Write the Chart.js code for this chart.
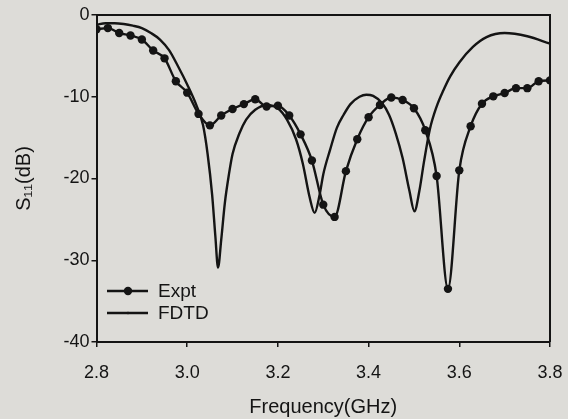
<!DOCTYPE html>
<html>
<head>
<meta charset="utf-8">
<script src="https://cdn.jsdelivr.net/npm/chart.js@4/dist/chart.umd.min.js"></script>
<style>
  html, body { margin: 0; padding: 0; background: #dddcd8; }
  #wrap { width: 568px; height: 419px; position: relative; }
</style>
</head>
<body>
<div id="wrap"><canvas id="c" width="568" height="419"></canvas></div>
<script>
// ---- data ----
const exptFreq = [2.800, 2.825, 2.850, 2.875, 2.900, 2.925, 2.950, 2.975, 3.000, 3.025,
                  3.050, 3.075, 3.100, 3.125, 3.150, 3.175, 3.200, 3.225, 3.250, 3.275,
                  3.300, 3.325, 3.350, 3.375, 3.400, 3.425, 3.450, 3.475, 3.500, 3.525,
                  3.550, 3.575, 3.600, 3.625, 3.650, 3.675, 3.700, 3.725, 3.750, 3.775, 3.800];
const exptS11  = [-1.75, -1.6, -2.2, -2.5, -3.0, -4.35, -5.3, -8.1, -9.5, -12.1,
                  -13.5, -12.3, -11.5, -10.9, -10.3, -11.2, -11.1, -12.3, -14.6, -17.8,
                  -23.2, -24.7, -19.1, -15.2, -12.5, -11.0, -10.1, -10.4, -11.4, -14.1,
                  -19.7, -33.5, -19.0, -13.6, -10.85, -9.95, -9.55, -8.95, -8.95, -8.1, -8.0];

const fdtdFreq = [2.80, 2.82, 2.84, 2.86, 2.88, 2.90, 2.92, 2.94, 2.96, 2.98,
                  3.00, 3.02, 3.035, 3.045, 3.055, 3.062, 3.068, 3.075, 3.083, 3.092,
                  3.10, 3.115, 3.13, 3.15, 3.175, 3.20, 3.22, 3.24, 3.255, 3.27,
                  3.281, 3.292, 3.30, 3.315, 3.33, 3.345, 3.36, 3.38, 3.395, 3.41,
                  3.43, 3.445, 3.46, 3.475, 3.49, 3.501, 3.512, 3.522, 3.535, 3.55,
                  3.565, 3.58, 3.60, 3.63, 3.66, 3.70, 3.75, 3.80];
const fdtdS11  = [-1.2, -1.0, -1.0, -1.1, -1.3, -1.6, -2.2, -3.0, -4.3, -6.3,
                  -8.5, -11.0, -13.5, -17.0, -22.0, -27.0, -30.9, -27.5, -23.0, -19.5,
                  -17.0, -14.5, -12.8, -11.6, -11.0, -11.4, -12.8, -15.2, -18.2, -22.3,
                  -24.2, -22.0, -19.5, -16.5, -13.8, -12.2, -10.9, -10.0, -9.75, -9.9,
                  -10.8, -12.2, -14.5, -17.5, -21.5, -24.0, -21.5, -18.0, -14.0, -11.2,
                  -9.2, -7.5, -5.8, -3.9, -2.7, -2.2, -2.6, -3.5];

const xTicks = [2.8, 3.0, 3.2, 3.4, 3.6, 3.8];
const yTicks = [0, -10, -20, -30, -40];
const seriesNames = ['Expt', 'FDTD'];
const xTitle = 'Frequency(GHz)';
const yTitle = 'S\u2081\u2081(dB)';

// ---- chart ----
const FONT = "'Liberation Sans', Arial, 'DejaVu Sans', sans-serif";
const INK = '#141414';

const toPts = (xs, ys) => xs.map((x, i) => ({ x: x, y: ys[i] }));

const frameAndLegend = {
  id: 'frameAndLegend',
  afterDatasetsDraw(chart) {
    const { ctx, chartArea: a } = chart;
    ctx.save();
    ctx.strokeStyle = INK;
    ctx.lineWidth = 2;
    ctx.beginPath();
    ctx.moveTo(a.left, a.top);
    ctx.lineTo(a.right, a.top);
    ctx.lineTo(a.right, a.bottom);
    ctx.stroke();

    // legend
    const rows = [{ y: 291, marker: true }, { y: 313, marker: false }];
    ctx.font = "19px " + FONT;
    ctx.fillStyle = INK;
    ctx.textBaseline = 'middle';
    rows.forEach((r, i) => {
      ctx.beginPath();
      ctx.lineWidth = 2.4;
      ctx.moveTo(107, r.y);
      ctx.lineTo(148, r.y);
      ctx.stroke();
      ctx.beginPath();
      ctx.arc(128, r.y, r.marker ? 4.2 : 1.3, 0, Math.PI * 2);
      ctx.fill();
      ctx.fillText(seriesNames[i], 158, r.y + 1);
    });
    ctx.restore();
  }
};

new Chart(document.getElementById('c'), {
  type: 'line',
  data: {
    datasets: [
      {
        label: seriesNames[0],
        data: toPts(exptFreq, exptS11),
        borderColor: INK,
        backgroundColor: INK,
        borderWidth: 2.4,
        pointRadius: 4.2,
        pointBorderWidth: 0,
        pointBackgroundColor: INK,
        cubicInterpolationMode: 'monotone',
        fill: false
      },
      {
        label: seriesNames[1],
        data: toPts(fdtdFreq, fdtdS11),
        borderColor: INK,
        backgroundColor: INK,
        borderWidth: 2.4,
        pointRadius: 0,
        cubicInterpolationMode: 'monotone',
        fill: false
      }
    ]
  },
  options: {
    responsive: false,
    animation: false,
    devicePixelRatio: 1,
    layout: { padding: { left: 0, right: 18, top: 15, bottom: 0 } },
    plugins: { legend: { display: false }, tooltip: { enabled: false } },
    scales: {
      x: {
        type: 'linear',
        min: 2.8, max: 3.8,
        afterBuildTicks: s => { s.ticks = xTicks.map(v => ({ value: v })); },
        afterFit: s => { s.height = 77; s.paddingLeft = 0; s.paddingRight = 0; },
        border: { display: true, color: INK, width: 2 },
        grid: { display: true, drawOnChartArea: false, drawTicks: true, tickLength: 5, color: INK, lineWidth: 1.5 },
        ticks: {
          color: INK, font: { family: FONT, size: 18 }, padding: 15, maxRotation: 0,
          callback: v => v.toFixed(1)
        },
        title: { display: true, text: xTitle, color: INK, font: { family: FONT, size: 20 }, padding: { top: 0, bottom: 0 } }
      },
      y: {
        type: 'linear',
        min: -40, max: 0,
        afterBuildTicks: s => { s.ticks = yTicks.map(v => ({ value: v })); },
        afterFit: s => { s.width = 96.5; s.paddingTop = 0; s.paddingBottom = 0; },
        border: { display: true, color: INK, width: 2 },
        grid: { display: true, drawOnChartArea: false, drawTicks: true, tickLength: 5, color: INK, lineWidth: 1.5 },
        ticks: { color: INK, font: { family: FONT, size: 18 }, padding: 2 },
        title: { display: true, text: yTitle, color: INK, font: { family: FONT, size: 20 }, padding: { top: 12, bottom: 0 } }
      }
    }
  },
  plugins: [frameAndLegend]
});
</script>
</body>
</html>
